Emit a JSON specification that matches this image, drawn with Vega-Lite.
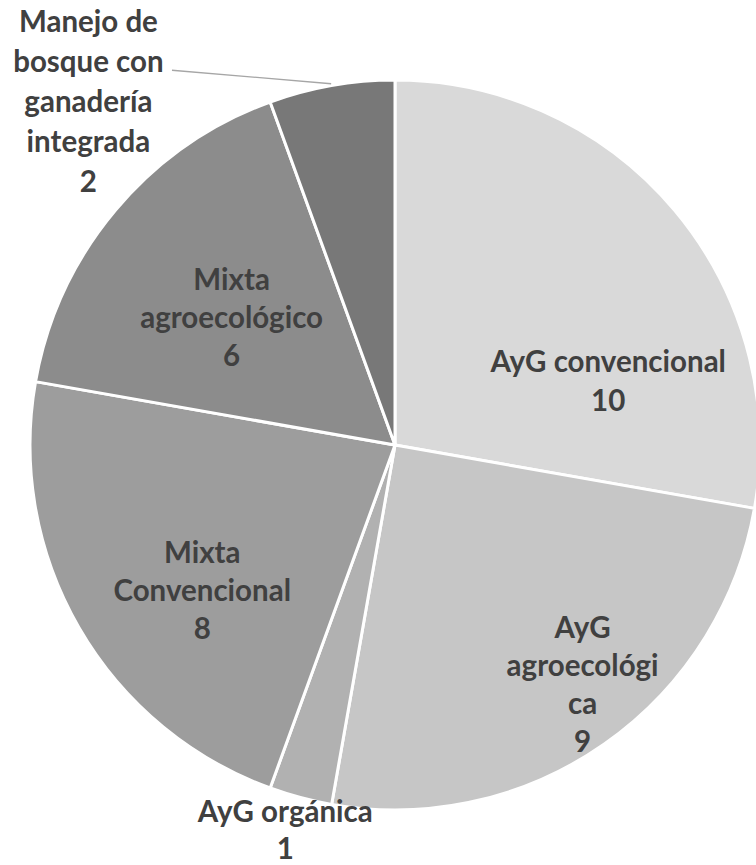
{
  "$schema": "https://vega.github.io/schema/vega-lite/v6.json",
  "width": 722,
  "height": 840,
  "autosize": {"type": "none"},
  "padding": {"left": 34, "top": 25, "right": 0, "bottom": 0},
  "background": "white",
  "view": {"stroke": null},
  "data": {
    "values": [
      {"orden": 1, "categoria": "AyG convencional", "etiqueta": "AyG convencional", "valor": 10},
      {"orden": 2, "categoria": "AyG agroecológica", "etiqueta": "AyG\nagroecológi\nca", "valor": 9},
      {"orden": 3, "categoria": "AyG orgánica", "etiqueta": "AyG orgánica", "valor": 1},
      {"orden": 4, "categoria": "Mixta Convencional", "etiqueta": "Mixta\nConvencional", "valor": 8},
      {"orden": 5, "categoria": "Mixta agroecológico", "etiqueta": "Mixta\nagroecológico", "valor": 6},
      {"orden": 6, "categoria": "Manejo de bosque con ganadería integrada", "etiqueta": "Manejo de\nbosque con\nganadería\nintegrada", "valor": 2}
    ]
  },
  "transform": [
    {"calculate": "datum.etiqueta + '\\n' + datum.valor", "as": "texto"}
  ],
  "encoding": {
    "theta": {"field": "valor", "type": "quantitative", "stack": true},
    "order": {"field": "orden", "type": "quantitative"}
  },
  "layer": [
    {
      "mark": {"type": "arc", "radius": 365, "stroke": "white", "strokeWidth": 3},
      "encoding": {
        "color": {
          "field": "categoria",
          "type": "nominal",
          "legend": null,
          "scale": {
            "domain": ["AyG convencional", "AyG agroecológica", "AyG orgánica", "Mixta Convencional", "Mixta agroecológico", "Manejo de bosque con ganadería integrada"],
            "range": ["#d9d9d9", "#c6c6c6", "#b1b1b1", "#9d9d9d", "#8c8c8c", "#787878"]
          }
        }
      }
    },
    {
      "mark": {"type": "text", "radius": 222, "thetaOffset": 0.415, "dy": -19.5, "font": "Lato", "fontWeight": "bold", "fontSize": 29.5, "lineHeight": 39, "lineBreak": "\n", "color": "#404040", "align": "center", "baseline": "middle"},
      "encoding": {"text": {"condition": {"test": "datum.orden === 1", "field": "texto"}, "value": ""}}
    },
    {
      "mark": {"type": "text", "radius": 306, "thetaOffset": -0.049, "dy": -58, "font": "Lato", "fontWeight": "bold", "fontSize": 29.5, "lineHeight": 38, "lineBreak": "\n", "color": "#404040", "align": "center", "baseline": "middle"},
      "encoding": {"text": {"condition": {"test": "datum.orden === 2", "field": "texto"}, "value": ""}}
    },
    {
      "mark": {"type": "text", "radius": 400, "thetaOffset": 0.016, "dy": -17, "font": "Lato", "fontWeight": "bold", "fontSize": 29.5, "lineHeight": 37, "lineBreak": "\n", "color": "#404040", "align": "center", "baseline": "middle"},
      "encoding": {"text": {"condition": {"test": "datum.orden === 3", "field": "texto"}, "value": ""}}
    },
    {
      "mark": {"type": "text", "radius": 241, "thetaOffset": -0.12, "dy": -36, "font": "Lato", "fontWeight": "bold", "fontSize": 29.5, "lineHeight": 38, "lineBreak": "\n", "color": "#404040", "align": "center", "baseline": "middle"},
      "encoding": {"text": {"condition": {"test": "datum.orden === 4", "field": "texto"}, "value": ""}}
    },
    {
      "mark": {"type": "text", "radius": 207, "thetaOffset": -0.037, "dy": -37, "font": "Lato", "fontWeight": "bold", "fontSize": 29.5, "lineHeight": 38, "lineBreak": "\n", "color": "#404040", "align": "center", "baseline": "middle"},
      "encoding": {"text": {"condition": {"test": "datum.orden === 5", "field": "texto"}, "value": ""}}
    },
    {
      "mark": {"type": "text", "radius": 460, "thetaOffset": -0.555, "dy": -79, "font": "Lato", "fontWeight": "bold", "fontSize": 29.5, "lineHeight": 40, "lineBreak": "\n", "color": "#404040", "align": "center", "baseline": "middle"},
      "encoding": {"text": {"condition": {"test": "datum.orden === 6", "field": "texto"}, "value": ""}}
    },
    {
      "data": {"values": [{"px": -0.611, "py": 1.027, "p": 1}, {"px": -0.175, "py": 0.99, "p": 2}]},
      "transform": [],
      "mark": {"type": "line", "color": "#a6a6a6", "strokeWidth": 1.3},
      "encoding": {
        "theta": null,
        "order": {"field": "p", "type": "quantitative"},
        "x": {"field": "px", "type": "quantitative", "axis": null, "scale": {"domain": [-0.989, 0.989], "zero": false, "nice": false}},
        "y": {"field": "py", "type": "quantitative", "axis": null, "scale": {"domain": [-1.151, 1.151], "zero": false, "nice": false}}
      }
    }
  ]
}
